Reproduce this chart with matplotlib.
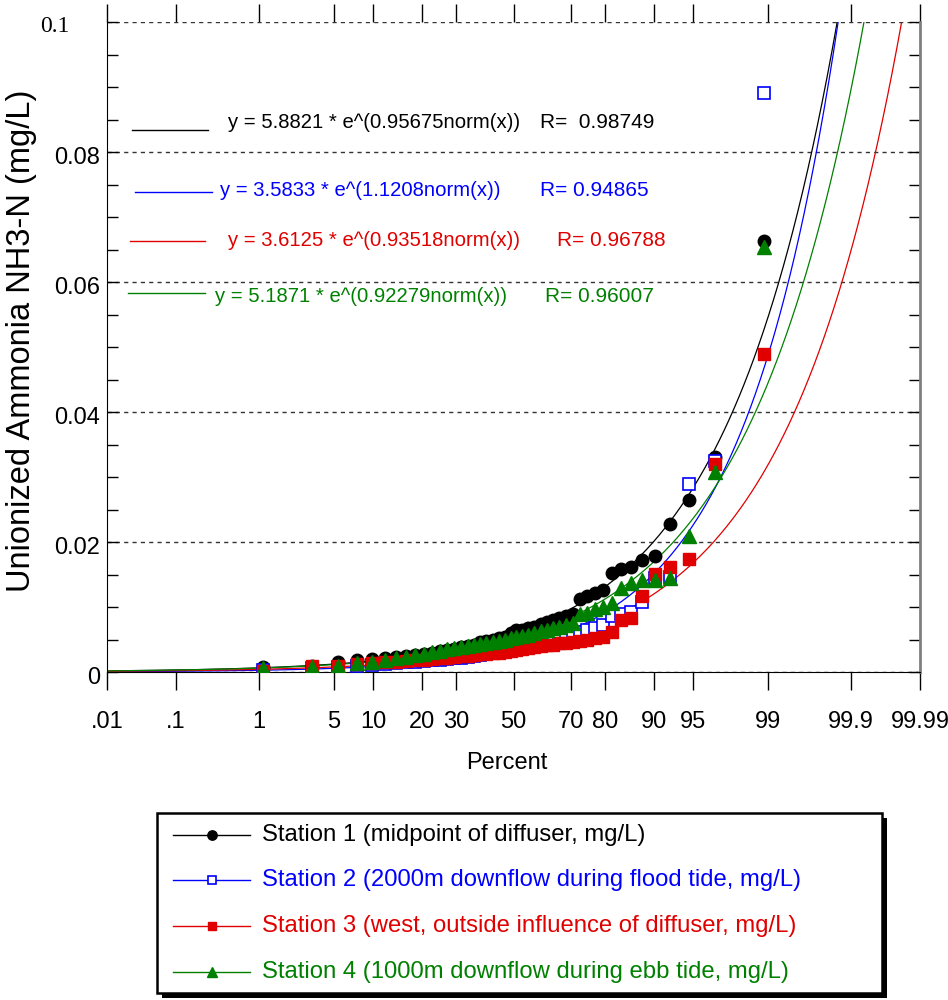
from statistics import NormalDist

import matplotlib

matplotlib.use("Agg")

import matplotlib.pyplot as plt
import numpy as np
from matplotlib.patches import Rectangle
from matplotlib.transforms import ScaledTranslation


plt.rcParams["font.family"] = ["Liberation Sans", "DejaVu Sans"]

W, H = 948, 1000

# probability axis
PERCENT_TICKS = [0.01, 0.1, 1, 5, 10, 20, 30, 50, 70, 80, 90, 95, 99, 99.9, 99.99]
PERCENT_LABELS = [".01", ".1", "1", "5", "10", "20", "30", "50", "70", "80", "90", "95", "99", "99.9", "99.99"]
Y_TICKS = [0, 0.02, 0.04, 0.06, 0.08, 0.1]
Y_LABELS = ["0", "0.02", "0.04", "0.06", "0.08", ""]

STATION_NAMES = [
    "Station 1 (midpoint of diffuser, mg/L)",
    "Station 2 (2000m downflow during flood tide, mg/L)",
    "Station 3 (west, outside influence of diffuser, mg/L)",
    "Station 4 (1000m downflow during ebb tide, mg/L)",
]
STATION_COLORS = ["#000000", "#0000ff", "#e00000", "#008000"]

station1 = [
    0.0007, 0.0010, 0.0015, 0.0019, 0.0020, 0.0021, 0.0023, 0.0025, 0.0026, 0.0028,
    0.0030, 0.0032, 0.0034, 0.0036, 0.0038, 0.0040, 0.0042, 0.0046, 0.0048, 0.0050,
    0.0052, 0.0054, 0.0060, 0.0064, 0.0065, 0.0068, 0.0070, 0.0074, 0.0077, 0.0080,
    0.0083, 0.0086, 0.0090, 0.0112, 0.0117, 0.0121, 0.0126, 0.0152, 0.0158, 0.0162,
    0.0172, 0.0178, 0.0227, 0.0265, 0.0331, 0.0663,
]
station2 = [
    0.0003, 0.0006, 0.0007, 0.0010, 0.0011, 0.0013, 0.0014, 0.0015, 0.0016, 0.0017,
    0.0018, 0.0019, 0.0020, 0.0021, 0.0022, 0.0023, 0.0024, 0.0026, 0.0027, 0.0029,
    0.0030, 0.0032, 0.0034, 0.0036, 0.0038, 0.0040, 0.0042, 0.0045, 0.0048, 0.0051,
    0.0054, 0.0057, 0.0059, 0.0062, 0.0065, 0.0068, 0.0072, 0.0086, 0.0090, 0.0093,
    0.0107, 0.0145, 0.0146, 0.0289, 0.0325, 0.0891,
]
station3 = [
    0.0002, 0.0009, 0.0010, 0.0013, 0.0014, 0.0015, 0.0016, 0.0017, 0.0018, 0.0019,
    0.0020, 0.0021, 0.0022, 0.0023, 0.0024, 0.0025, 0.0026, 0.0027, 0.0028, 0.0029,
    0.0030, 0.0031, 0.0032, 0.0034, 0.0036, 0.0037, 0.0038, 0.0040, 0.0041, 0.0042,
    0.0044, 0.0045, 0.0046, 0.0047, 0.0050, 0.0052, 0.0054, 0.0062, 0.0080, 0.0083,
    0.0117, 0.0151, 0.0161, 0.0174, 0.0320, 0.0489,
]
station4 = [
    0.0006, 0.0008, 0.0009, 0.0014, 0.0015, 0.0018, 0.0021, 0.0023, 0.0026, 0.0028,
    0.0031, 0.0033, 0.0035, 0.0037, 0.0038, 0.0040, 0.0042, 0.0043, 0.0045, 0.0046,
    0.0047, 0.0049, 0.0052, 0.0054, 0.0055, 0.0057, 0.0060, 0.0063, 0.0065, 0.0068,
    0.0069, 0.0072, 0.0075, 0.0089, 0.0091, 0.0097, 0.0100, 0.0106, 0.0129, 0.0137,
    0.0141, 0.0142, 0.0145, 0.0209, 0.0307, 0.0654,
]
STATIONS = [station1, station2, station3, station4]

# fitted y = a * 1e-3 * exp(b * norm(x))
FIT_A = [5.8821, 3.5833, 3.6125, 5.1871]
FIT_B = [0.95675, 1.1208, 0.93518, 0.92279]
FIT_R = [0.98749, 0.94865, 0.96788, 0.96007]

MARKERS = [
    dict(marker="o", ms=9, mfc="#000000", mec="#000000"),
    dict(marker="s", ms=8, mfc="white", mec="#0000ff", mew=1.2),
    dict(marker="s", ms=8.5, mfc="#e00000", mec="#e00000"),
    dict(marker="^", ms=10, mfc="#008000", mec="#008000"),
]


def probit(percent):
    nd = NormalDist()
    return np.array([nd.inv_cdf(p / 100.0) for p in np.atleast_1d(percent)])


def plotting_positions(n):
    return (np.arange(1, n + 1) - 0.5) / n * 100.0


fig = plt.figure(figsize=(W / 100, H / 100), dpi=100)
ax = fig.add_axes([107 / W, 1 - 672 / H, 813 / W, 650 / H])

zmin, zmax = probit([0.01, 99.99])
z_line = np.linspace(zmin, zmax, 500)

for k, values in enumerate(STATIONS):
    color = STATION_COLORS[k]
    ax.plot(z_line, FIT_A[k] * 1e-3 * np.exp(FIT_B[k] * z_line), color=color, lw=0.9, zorder=2)
    z_pts = probit(plotting_positions(len(values)))
    ax.plot(z_pts, values, linestyle="none", zorder=3 + k, **MARKERS[k])

ax.set_xlim(zmin, zmax)
ax.set_ylim(0, 0.1)
ax.set_xticks(probit(PERCENT_TICKS), PERCENT_LABELS)
ax.set_yticks(Y_TICKS, Y_LABELS)
ax.set_yticks(np.arange(0, 0.1001, 0.005), minor=True)
ax.tick_params(axis="x", direction="out", length=13, top=True, labeltop=False, labelsize=17, pad=15, width=1)
ax.tick_params(axis="y", which="both", direction="in", length=8, right=True, labelsize=17, pad=5, width=1)
ax.grid(axis="y", color="#333333", linestyle=(0, (3, 3)), lw=1)
ax.spines["top"].set_visible(False)
ax.spines["right"].set_color("#808080")
ax.spines["right"].set_linewidth(2)

shift = ScaledTranslation(0, -4 / 100, fig.dpi_scale_trans)
for label in ax.get_yticklabels():
    label.set_transform(label.get_transform() + shift)

ax.set_xlabel("Percent", fontsize=17)
ax.xaxis.set_label_coords((507 - 107) / 813, (672 - 763) / 650)
ax.xaxis.label.set_va("center")

# overlay in pixel coordinates for free text and the key box
ov = fig.add_axes([0, 0, 1, 1])
ov.set_xlim(0, W)
ov.set_ylim(H, 0)
ov.axis("off")

ov.text(22, 341, "Unionized Ammonia NH3-N (mg/L)", rotation=90, ha="center", va="center", fontsize=23.5)
ov.text(70, 27, "0.1", ha="right", va="center", fontsize=17, family="Liberation Serif")

# equation key
eq_rows = [
    (132, 208, 130, 228, 122, 540, "R=  "),
    (135, 212, 192, 220, 191, 540, "R= "),
    (130, 205, 241, 228, 241, 557, "R= "),
    (128, 205, 293, 215, 296, 545, "R= "),
]
for k, (x0, x1, yl, xt, yt, xr, rtxt) in enumerate(eq_rows):
    color = STATION_COLORS[k]
    ov.plot([x0, x1], [yl, yl], color=color, lw=1)
    ov.text(xt, yt, f"y = {FIT_A[k]} * e^({FIT_B[k]}norm(x))", color=color, fontsize=14.6, va="center")
    ov.text(xr, yt, f"{rtxt}{FIT_R[k]}", color=color, fontsize=15, va="center")

# legend box with shadow
box_l, box_t, box_r, box_b = 157, 813, 882, 993
ov.add_patch(Rectangle((box_l + 5, box_t + 5), box_r - box_l, box_b - box_t, facecolor="black", edgecolor="none"))
ov.add_patch(Rectangle((box_l, box_t), box_r - box_l, box_b - box_t, facecolor="white", edgecolor="black", lw=1.8))
row_y = [835, 880, 926, 972]
for k, name in enumerate(STATION_NAMES):
    color = STATION_COLORS[k]
    ov.plot([173, 250], [row_y[k], row_y[k]], color=color, lw=1)
    style = dict(MARKERS[k])
    style["ms"] = style["ms"] * 0.75
    ov.plot([212], [row_y[k]], linestyle="none", **style)
    ov.text(262, row_y[k], name, color=color, fontsize=17.2, va="center")

fig.savefig("out.png", dpi=100)
